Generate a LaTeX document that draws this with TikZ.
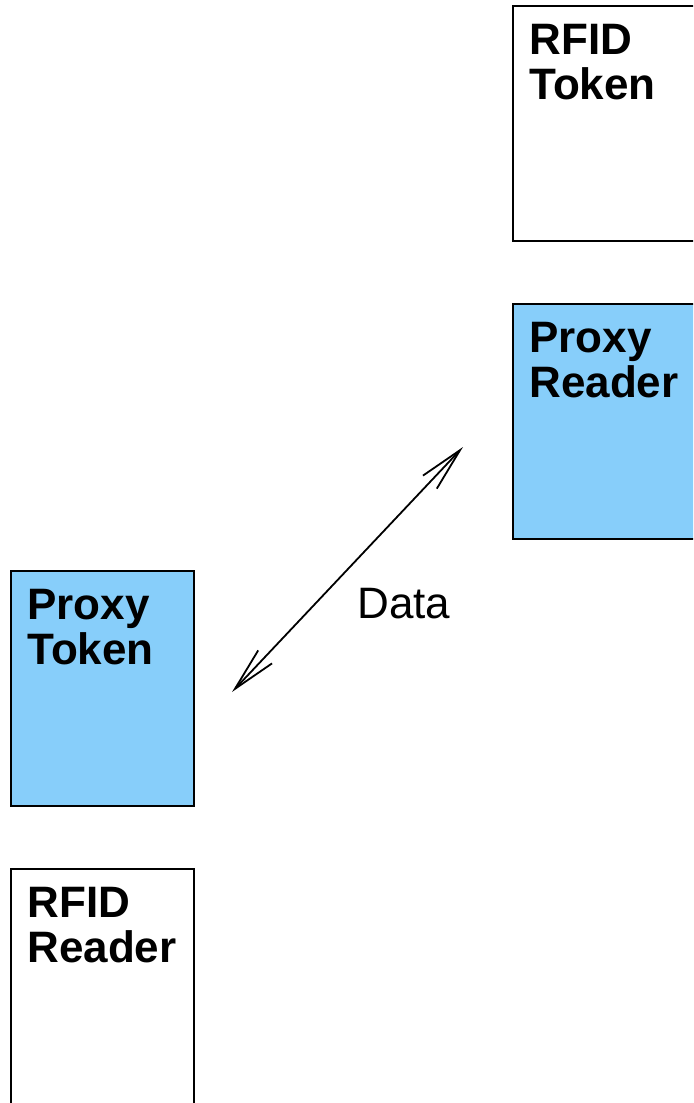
\documentclass[tikz,border=0pt]{standalone}
\usepackage{fontspec}
\setmainfont{Liberation Sans}
\usetikzlibrary{positioning,arrows.meta}
\definecolor{proxyblue}{RGB}{135,206,250}

\tikzset{
  device/.style={draw=black,line width=1pt,anchor=north west,inner sep=0pt,
    minimum width=91.5pt,minimum height=117.5pt},
  proxydev/.style={device,fill=proxyblue},
  devname/.style={anchor=north west,align=left,inner sep=0pt,
    font=\fontsize{22}{22.5}\selectfont\bfseries},
  link/.style={line width=0.9pt,{Straight Barb[length=22pt,width=9.5pt]}-{Straight Barb[length=22pt,width=9.5pt]}}
}

\begin{document}
\begin{tikzpicture}[x=0.5pt,y=-0.5pt]
\useasboundingbox (0,0) rectangle (693,1103);
\clip (0,0) rectangle (693,1103);

% the four boxes, the right pair runs off the edge
\node[device]   (rtok) at (512,5)   {};
\node[proxydev] (prd)  at (512,303) {};
\node[proxydev] (ptok) at (10,570)  {};
\node[device]   (rrd)  at (10,868)  {};

\node[devname] (rtokname) at ([xshift=8.5pt,yshift=-9.5pt]rtok.north west) {RFID\\Token};
\node[devname] (prdname)  at ([xshift=8.5pt,yshift=-9.5pt]prd.north west)  {Proxy\\Reader};
\node[devname] (ptokname) at ([xshift=8.5pt,yshift=-9.5pt]ptok.north west) {Proxy\\Token};
\node[devname] (rrdname)  at ([xshift=8.5pt,yshift=-9.5pt]rrd.north west)  {RFID\\Reader};

% relay link between the two proxies
\coordinate (linkA) at (232,692);
\coordinate (linkB) at (463,447);
\draw[link] (linkA) -- node[midway,anchor=north west,inner sep=0pt,xshift=4.5pt,yshift=-9pt,
  font=\fontsize{22}{26}\selectfont] (datalbl) {Data} (linkB);
\end{tikzpicture}
\end{document}
